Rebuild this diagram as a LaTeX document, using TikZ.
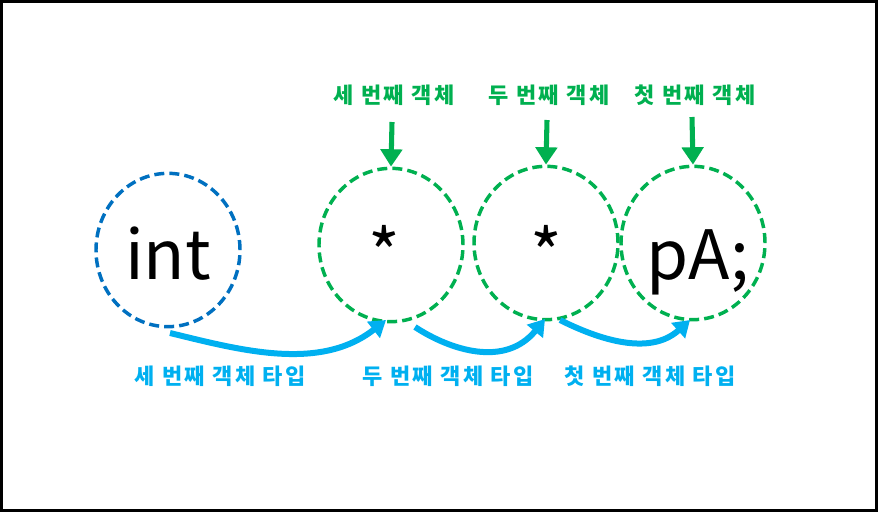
\documentclass[tikz,border=0pt]{standalone}
\usepackage{fontspec}
\setmainfont{Noto Sans CJK KR}
\newfontfamily\kr[LetterSpace=11]{Noto Sans CJK KR}
\usetikzlibrary{shapes.geometric,arrows.meta}
\definecolor{cblue}{HTML}{0070C0}
\definecolor{cgreen}{HTML}{00B050}
\definecolor{clight}{HTML}{00B0F0}
\tikzset{
  obj/.style={ellipse,draw,line width=2.6pt,dash pattern=on 7.5pt off 3.8pt,minimum width=108pt,minimum height=115pt,inner sep=0pt},
  big/.style={font=\fontsize{51}{60}\selectfont,anchor=base,inner sep=0pt},
  glabel/.style={text=cgreen,font=\kr\bfseries\fontsize{16.5}{18}\selectfont,inner sep=0pt},
  blabel/.style={text=clight,font=\kr\bfseries\fontsize{16.5}{18}\selectfont,inner sep=0pt},
  garrow/.style={draw=cgreen,line width=3.8pt,-{Triangle[length=13pt,width=16pt]}},
  barrow/.style={draw=clight,line width=4.5pt,-{Triangle[length=12pt,width=15pt]}},
}
\begin{document}
\begin{tikzpicture}[x=0.75pt,y=-0.75pt]
\useasboundingbox (0,0) rectangle (878,512);
\draw[line width=2.25pt] (1.5,1.5) rectangle (876.5,510.5);
% circles
\node[obj,draw=cblue] (int) at (168,250) {};
\node[obj,draw=cgreen] (c1) at (391,245) {};
\node[obj,draw=cgreen] (c2) at (546,243) {};
\node[obj,draw=cgreen] (c3) at (693,243) {};
% big texts
\node[big] (tint) at (168,279) {int};
\node[big] (tst1) at (384,279) {*};
\node[big] (tst2) at (546,279) {*};
\node[big] (tpa) at (698,279) {pA;};
% green labels
\node[glabel] (g1) at (394,95) {세 번째 객체};
\node[glabel] (g2) at (549,95) {두 번째 객체};
\node[glabel] (g3) at (695,95) {첫 번째 객체};
\coordinate (g1s) at (392,122);
\coordinate (g2s) at (547,120);
\coordinate (g3s) at (692,117);
\draw[garrow] (g1s) -- (c1.north);
\draw[garrow] (g2s) -- (c2.north);
\draw[garrow] (g3s) -- (c3.north);
% blue labels
\node[blabel] (b1) at (220,376) {세 번째 객체 타입};
\node[blabel] (b2) at (448,376) {두 번째 객체 타입};
\node[blabel] (b3) at (650,376) {첫 번째 객체 타입};
% blue curved arrows
\coordinate (s1) at (170,333);
\coordinate (e1) at (386,320);
\coordinate (s2) at (415,327);
\coordinate (e2) at (545,319);
\coordinate (s3) at (560,320);
\coordinate (e3) at (690,320);
\draw[barrow] (s1) .. controls (240,350) and (320,372) .. (e1);
\draw[barrow] (s2) .. controls (450,350) and (505,368) .. (e2);
\draw[barrow] (s3) .. controls (600,340) and (650,356) .. (e3);
\end{tikzpicture}
\end{document}
